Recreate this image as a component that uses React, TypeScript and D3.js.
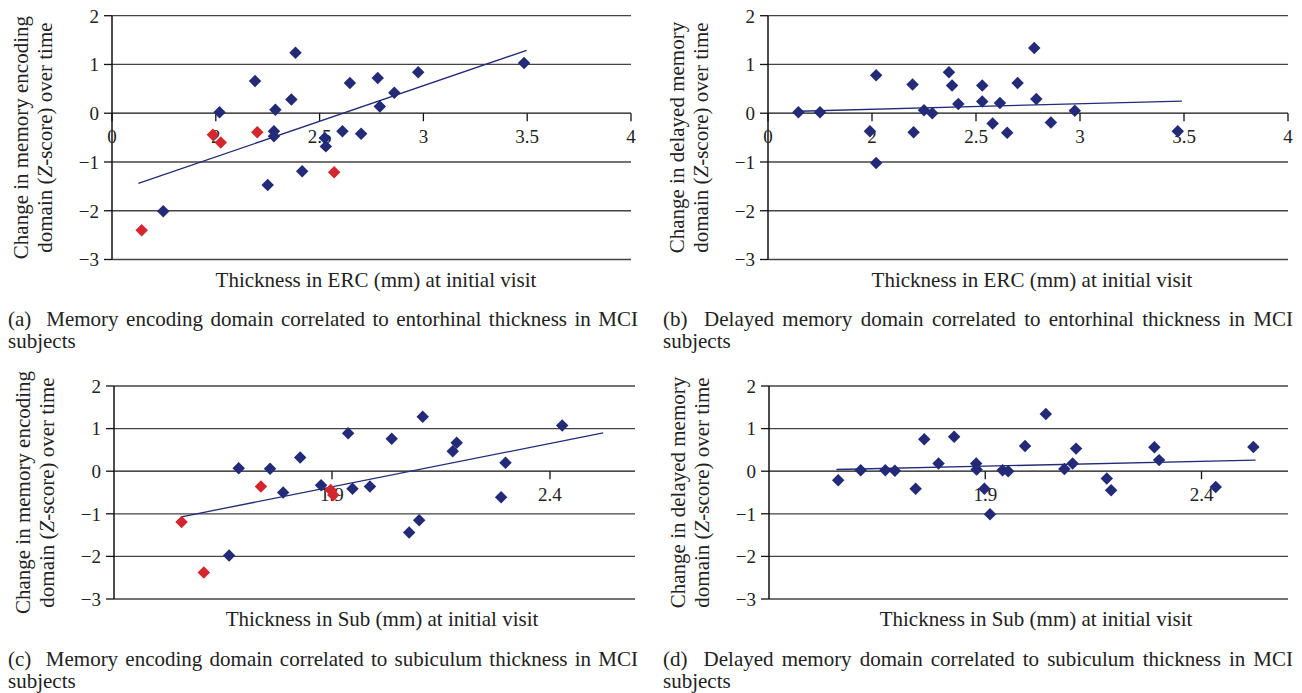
import { useEffect, useRef } from "react"
import * as d3 from "d3"

const W = 1302
const H = 693
const FONT = "'Liberation Serif', 'Times New Roman', serif"
const BLUE = "#232b78"
const RED = "#d4262c"

// shared y axis (Z-score change)
const yTicks = [-3, -2, -1, 0, 1, 2]

// x axis ticks
const ercTickValues = [1.5, 2, 2.5, 3, 3.5, 4]
const ercTickLabels = ["0", "2", "2.5", "3", "3.5", "4"]
const subTickValues = [1.9, 2.4]
const subTickLabels = ["1.9", "2.4"]

// (a) memory encoding vs ERC thickness
const encErcBlueX = [1.747, 2.018, 2.189, 2.25, 2.287, 2.28, 2.28, 2.364, 2.384, 2.416, 2.525, 2.53, 2.646, 2.61, 2.7, 2.78, 2.79, 2.86, 2.975, 3.485]
const encErcBlueY = [-2.01, 0.02, 0.66, -1.47, 0.07, -0.37, -0.47, 0.28, 1.24, -1.19, -0.51, -0.68, 0.62, -0.37, -0.42, 0.72, 0.14, 0.42, 0.84, 1.03]
const encErcRedX = [1.643, 1.986, 2.024, 2.2, 2.57]
const encErcRedY = [-2.4, -0.44, -0.6, -0.39, -1.21]
const encErcTrendX = [1.627, 3.497]
const encErcTrendY = [-1.44, 1.29]

// (b) delayed memory vs ERC thickness
const delErcBlueX = [1.646, 1.75, 2.02, 1.99, 2.02, 2.195, 2.2, 2.25, 2.29, 2.37, 2.385, 2.415, 2.53, 2.53, 2.58, 2.615, 2.65, 2.7, 2.78, 2.79, 2.86, 2.975, 3.47]
const delErcBlueY = [0.02, 0.02, 0.78, -0.37, -1.02, 0.59, -0.39, 0.06, 0.0, 0.84, 0.57, 0.19, 0.24, 0.57, -0.21, 0.21, -0.4, 0.62, 1.34, 0.29, -0.19, 0.05, -0.37]
const delErcTrendX = [1.646, 3.49]
const delErcTrendY = [0.04, 0.25]

// (c) memory encoding vs subiculum thickness
const encSubBlueX = [1.664, 1.686, 1.758, 1.788, 1.827, 1.875, 1.937, 1.947, 1.987, 2.037, 2.077, 2.1, 2.108, 2.177, 2.186, 2.288, 2.298, 2.428]
const encSubBlueY = [-1.98, 0.07, 0.06, -0.5, 0.32, -0.33, 0.89, -0.41, -0.36, 0.76, -1.44, -1.15, 1.28, 0.47, 0.67, -0.61, 0.2, 1.07]
const encSubRedX = [1.555, 1.606, 1.737, 1.897, 1.903]
const encSubRedY = [-1.19, -2.38, -0.36, -0.44, -0.56]
const encSubTrendX = [1.555, 2.522]
const encSubTrendY = [-1.07, 0.9]

// (d) delayed memory vs subiculum thickness
const delSubBlueX = [1.56, 1.612, 1.669, 1.691, 1.739, 1.759, 1.792, 1.828, 1.879, 1.88, 1.898, 1.911, 1.94, 1.953, 1.992, 2.04, 2.083, 2.102, 2.11, 2.181, 2.191, 2.291, 2.302, 2.433, 2.52]
const delSubBlueY = [-0.21, 0.02, 0.02, 0.01, -0.41, 0.75, 0.18, 0.81, 0.18, 0.04, -0.41, -1.01, 0.02, 0.0, 0.59, 1.34, 0.05, 0.18, 0.53, -0.17, -0.45, 0.56, 0.26, -0.37, 0.57]
const delSubTrendX = [1.556, 2.525]
const delSubTrendY = [0.04, 0.26]

interface Panel {
  left: number
  right: number
  top: number
  bottom: number
  xDomain: [number, number]
  tickValues: number[]
  tickLabels: string[]
  yTitle: string
  xTitle: string
  xTitleX: number
  caption: string
  capX: number
  capY: number
  blueX: number[]
  blueY: number[]
  redX: number[]
  redY: number[]
  trendX: number[]
  trendY: number[]
}

const panels: Panel[] = [
  {
    left: 112, right: 631, top: 15.7, bottom: 259.5, xDomain: [1.5, 4],
    tickValues: ercTickValues, tickLabels: ercTickLabels,
    yTitle: "Change in memory encoding", xTitle: "Thickness in ERC (mm) at initial visit", xTitleX: 376,
    caption: "(a)  Memory encoding domain correlated to entorhinal thickness in MCI", capX: 8, capY: 326,
    blueX: encErcBlueX, blueY: encErcBlueY, redX: encErcRedX, redY: encErcRedY,
    trendX: encErcTrendX, trendY: encErcTrendY,
  },
  {
    left: 768, right: 1288, top: 15.7, bottom: 259.5, xDomain: [1.5, 4],
    tickValues: ercTickValues, tickLabels: ercTickLabels,
    yTitle: "Change in delayed memory", xTitle: "Thickness in ERC (mm) at initial visit", xTitleX: 1032,
    caption: "(b)  Delayed memory domain correlated to entorhinal thickness in MCI", capX: 663, capY: 326,
    blueX: delErcBlueX, blueY: delErcBlueY, redX: [], redY: [],
    trendX: delErcTrendX, trendY: delErcTrendY,
  },
  {
    left: 114, right: 635, top: 386, bottom: 599, xDomain: [1.4, 2.595],
    tickValues: subTickValues, tickLabels: subTickLabels,
    yTitle: "Change in memory encoding", xTitle: "Thickness in Sub (mm) at initial visit", xTitleX: 382,
    caption: "(c)  Memory encoding domain correlated to subiculum thickness in MCI", capX: 8, capY: 666,
    blueX: encSubBlueX, blueY: encSubBlueY, redX: encSubRedX, redY: encSubRedY,
    trendX: encSubTrendX, trendY: encSubTrendY,
  },
  {
    left: 769, right: 1288, top: 386, bottom: 599, xDomain: [1.4, 2.6],
    tickValues: subTickValues, tickLabels: subTickLabels,
    yTitle: "Change in delayed memory", xTitle: "Thickness in Sub (mm) at initial visit", xTitleX: 1036,
    caption: "(d)  Delayed memory domain correlated to subiculum thickness in MCI", capX: 663, capY: 666,
    blueX: delSubBlueX, blueY: delSubBlueY, redX: [], redY: [],
    trendX: delSubTrendX, trendY: delSubTrendY,
  },
]

const fmtY = (d: number) => (d < 0 ? "\u2212" + Math.abs(d) : String(d))

const App = () => {
  const svgRef = useRef<SVGSVGElement | null>(null)

  useEffect(() => {
    if (!svgRef.current) return
    const svg = d3.select(svgRef.current)
    svg.selectAll("*").remove()

    const diamond = d3.symbol(d3.symbolSquare, 78)()

    panels.forEach((p) => {
      const x = d3.scaleLinear().domain(p.xDomain).range([p.left, p.right])
      const y = d3.scaleLinear().domain([-3, 2]).range([p.bottom, p.top])
      const g = svg.append("g")

      // horizontal gridlines
      g.selectAll(".grid")
        .data(yTicks)
        .join("line")
        .attr("x1", p.left)
        .attr("x2", p.right)
        .attr("y1", (d) => y(d))
        .attr("y2", (d) => y(d))
        .attr("stroke", (d) => (d === 0 ? "#111" : "#444"))
        .attr("stroke-width", 1.3)

      // y axis + ticks
      g.append("line")
        .attr("x1", p.left).attr("x2", p.left)
        .attr("y1", p.top).attr("y2", p.bottom)
        .attr("stroke", "#111").attr("stroke-width", 1.5)
      g.selectAll(".ytick")
        .data(yTicks)
        .join("line")
        .attr("x1", p.left - 8).attr("x2", p.left)
        .attr("y1", (d) => y(d)).attr("y2", (d) => y(d))
        .attr("stroke", "#111").attr("stroke-width", 1.3)
      g.selectAll(".ylab")
        .data(yTicks)
        .join("text")
        .attr("x", p.left - 13)
        .attr("y", (d) => y(d))
        .attr("dy", "0.36em")
        .attr("text-anchor", "end")
        .attr("font-family", FONT)
        .attr("font-size", 19)
        .attr("fill", "#222")
        .text(fmtY)

      // x ticks on the zero line
      const y0 = y(0)
      g.selectAll(".xtick")
        .data(p.tickValues)
        .join("line")
        .attr("x1", (d) => x(d)).attr("x2", (d) => x(d))
        .attr("y1", y0).attr("y2", y0 + 8)
        .attr("stroke", "#111").attr("stroke-width", 1.3)
      g.selectAll(".xlab")
        .data(p.tickValues)
        .join("text")
        .attr("x", (d) => x(d))
        .attr("y", y0 + 30)
        .attr("text-anchor", "middle")
        .attr("font-family", FONT)
        .attr("font-size", 19)
        .attr("fill", "#222")
        .text((_, i) => p.tickLabels[i])

      // trend line
      const trend = d3.line<number>()
        .x((d) => x(d))
        .y((_, i) => y(p.trendY[i]))
      g.append("path")
        .attr("d", trend(p.trendX))
        .attr("fill", "none")
        .attr("stroke", BLUE)
        .attr("stroke-width", 1.3)

      // points
      g.selectAll(".blue")
        .data(p.blueX)
        .join("path")
        .attr("d", diamond)
        .attr("transform", (d, i) => `translate(${x(d)},${y(p.blueY[i])}) rotate(45)`)
        .attr("fill", BLUE)
      g.selectAll(".red")
        .data(p.redX)
        .join("path")
        .attr("d", diamond)
        .attr("transform", (d, i) => `translate(${x(d)},${y(p.redY[i])}) rotate(45)`)
        .attr("fill", RED)

      // y axis title, two lines
      const cy = (p.top + p.bottom) / 2
      g.append("text")
        .attr("transform", `translate(${p.left - 84},${cy}) rotate(-90)`)
        .attr("text-anchor", "middle")
        .attr("font-family", FONT)
        .attr("font-size", 21)
        .attr("fill", "#222")
        .text(p.yTitle)
      const t2 = g.append("text")
        .attr("transform", `translate(${p.left - 60},${cy}) rotate(-90)`)
        .attr("text-anchor", "middle")
        .attr("font-family", FONT)
        .attr("font-size", 21)
        .attr("fill", "#222")
      t2.append("tspan").text("domain (")
      t2.append("tspan").attr("font-style", "italic").text("Z")
      t2.append("tspan").text("-score) over time")

      // x axis title
      g.append("text")
        .attr("x", p.xTitleX)
        .attr("y", p.bottom + 27)
        .attr("text-anchor", "middle")
        .attr("font-family", FONT)
        .attr("font-size", 21)
        .attr("fill", "#222")
        .text(p.xTitle)

      // caption, first line justified to 630px
      const cap = g.append("text")
        .attr("x", p.capX)
        .attr("y", p.capY)
        .attr("font-family", FONT)
        .attr("font-size", 21)
        .attr("fill", "#222")
        .style("white-space", "pre")
        .text(p.caption)
      const len = (cap.node() as SVGTextElement).getComputedTextLength()
      const spaces = p.caption.split(" ").length - 1
      if (len < 630) cap.attr("word-spacing", (630 - len) / spaces)
      g.append("text")
        .attr("x", p.capX)
        .attr("y", p.capY + 22)
        .attr("font-family", FONT)
        .attr("font-size", 21)
        .attr("fill", "#222")
        .text("subjects")
    })
  }, [])

  return (
    <svg
      ref={svgRef}
      width={W}
      height={H}
      style={{ position: "absolute", left: 0, top: 0, background: "#fff" }}
    />
  )
}

export default App
